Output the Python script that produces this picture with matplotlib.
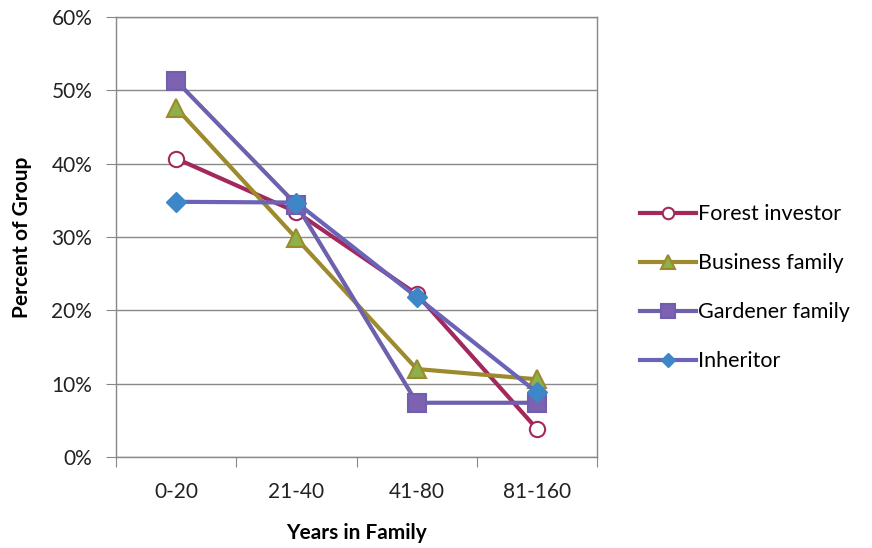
import matplotlib
matplotlib.use("Agg")
import matplotlib.pyplot as plt
from matplotlib.ticker import FixedLocator, PercentFormatter

plt.rcParams['font.family'] = ['Lato', 'DejaVu Sans']

categories = ["0-20", "21-40", "41-80", "81-160"]
forest_investor = [40.7, 33.4, 22.2, 3.8]
business_family = [47.6, 29.8, 12.0, 10.6]
gardener_family = [51.3, 34.4, 7.4, 7.4]
inheritor = [34.8, 34.7, 21.8, 8.8]

fig = plt.figure(figsize=(8.72, 5.48), dpi=100)
ax = fig.add_axes([0.133, 0.166, 0.552, 0.803])

x = list(range(len(categories)))
ax.plot(x, forest_investor, color="#A3285C", lw=3, marker="o", ms=11,
        mfc="white", mec="#A3285C", mew=1.5, label="Forest investor", zorder=3)
ax.plot(x, business_family, color="#9C8A2C", lw=3, marker="^", ms=13,
        mfc="#8CB04A", mec="#9C8A2C", mew=1.5, label="Business family", zorder=3)
ax.plot(x, gardener_family, color="#6D61AE", lw=3, marker="s", ms=13,
        mfc="#7E62B2", mec="#6D61AE", mew=1.5, label="Gardener family", zorder=3)
ax.plot(x, inheritor, color="#6A63B8", lw=3, marker="D", ms=10,
        mfc="#3D87C9", mec="#3D87C9", mew=1, label="Inheritor", zorder=4)

ax.set_xlim(-0.5, 3.5)
ax.set_ylim(0, 60)
ax.set_yticks([0, 10, 20, 30, 40, 50, 60])
ax.yaxis.set_major_formatter(PercentFormatter(decimals=0))
ax.set_xticks([-0.5, 0.5, 1.5, 2.5, 3.5])
ax.set_xticklabels([])
ax.xaxis.set_minor_locator(FixedLocator(x))
ax.set_xticklabels(categories, minor=True)
ax.tick_params(axis='x', which='minor', length=0, pad=18, labelsize=15, labelcolor="#222222")
ax.tick_params(axis='x', which='major', length=7, direction='out', color="#888888")
ax.tick_params(axis='y', length=7, direction='out', color="#888888", labelsize=15,
               labelcolor="#222222", pad=10)
ax.grid(axis='y', color="#888888", lw=1)
ax.set_axisbelow(True)
for s in ax.spines.values():
    s.set_color("#888888")
    s.set_linewidth(1)

ax.set_xlabel("Years in Family", fontsize=15, fontweight='bold', labelpad=15)
ax.set_ylabel("Percent of Group", fontsize=15, fontweight='bold', labelpad=14)

leg = fig.legend(loc='upper left', bbox_to_anchor=(0.724, 0.643), frameon=False,
                 fontsize=15.5, labelspacing=1.35, handlelength=2.6, handletextpad=0.1,
                 borderaxespad=0, markerscale=0.75)

fig.savefig("out.png", dpi=100)
